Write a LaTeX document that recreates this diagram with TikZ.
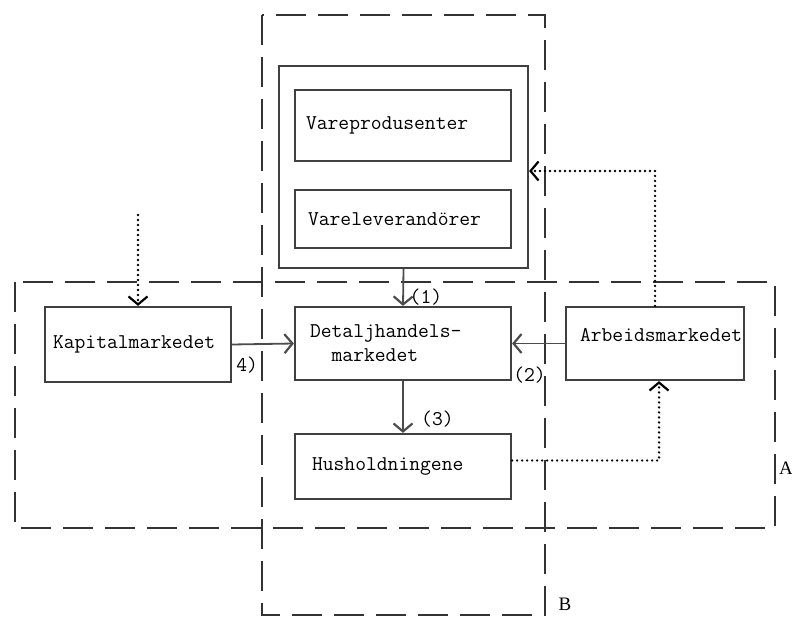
\documentclass[tikz,border=0pt]{standalone}
\usepackage{fontspec}
\newfontfamily\serfont{Liberation Serif}
\usetikzlibrary{arrows.meta}

\begin{document}
\begin{tikzpicture}[x=1pt,y=-1pt,font=\ttfamily\fontsize{21}{24}\selectfont,
   box/.style={draw=black!75,line width=2.2pt,inner ysep=0pt,align=left},
   region/.style={draw=black!80,line width=2pt,dash pattern=on 30pt off 12pt},
   flow/.style={draw=black!70,line width=1.8pt,-{Straight Barb[length=8pt,width=19pt,line width=2.2pt]}},
   effect/.style={line width=2.7pt,dash pattern=on 0pt off 5pt,line cap=round,
     -{Straight Barb[length=8pt,width=19pt,line width=2.2pt]}},
   tag/.style={inner sep=0pt}]
  \useasboundingbox (0,0) rectangle (792,620);

  % ---- the two regions A and B ----
  \draw[region] (262,15) rectangle (545,615);
  \draw[region] (15,282) rectangle (775,528);
  \node[tag,font=\serfont\fontsize{19}{22}\selectfont] (labA) at (786,468) {A};
  \node[tag,font=\serfont\fontsize{19}{22}\selectfont] (labB) at (565,604) {B};

  % ---- supply side ----
  \node[box,minimum width=249,minimum height=202] (supply) at (403.5,167) {};
  \node[box,minimum width=216,minimum height=71,inner xsep=11pt,text width=194pt] (prod) at (403,125.5) {Vareprodusenter};
  \node[box,minimum width=216,minimum height=58,inner xsep=13pt,text width=190pt] (lev) at (403,219) {Vareleverandörer};

  % ---- markets ----
  \node[box,minimum width=186,minimum height=75,inner xsep=8pt,text width=170pt] (kap) at (138,344.5) {Kapitalmarkedet};
  \node[box,minimum width=216,minimum height=73,inner xsep=15pt,text width=186pt] (det) at (403,343.5) {Detaljhandels-\\\phantom{ma}markedet};
  \node[box,minimum width=178,minimum height=73,inner xsep=14pt,text width=150pt] (arb) at (655,343.5) {\raisebox{17pt}{Arbeidsmarkedet}};
  \node[box,minimum width=216,minimum height=65,inner xsep=17pt,text width=182pt] (hus) at (403,466.5) {Husholdningene};

  % ---- flows ----
  \draw[flow] (supply.south) -- (det.north);
  \node[tag,anchor=west] (n1) at ([xshift=6,yshift=-28]supply.south) {(1)};
  \draw[flow] (kap.east) -- (det.west);
  \node[tag,anchor=west] (n4) at ([xshift=4,yshift=-21]kap.east) {4)};
  \draw[flow] (arb.west) -- (det.east);
  \node[tag,anchor=south west] (n2) at ([xshift=1,yshift=-2]det.south east) {(2)};
  \draw[flow] (det.south) -- (hus.north);
  \node[tag,anchor=west] (n3) at ([xshift=18,yshift=-38]det.south) {(3)};

  % ---- dotted effects ----
  \coordinate (kapin) at (138,215);
  \draw[effect] (kapin) -- (kap.north);
  \draw[effect] (arb.north) |- ([yshift=-4]supply.east);
  \draw[effect] ([yshift=6]hus.east) -| ([xshift=4]arb.south);
\end{tikzpicture}
\end{document}
